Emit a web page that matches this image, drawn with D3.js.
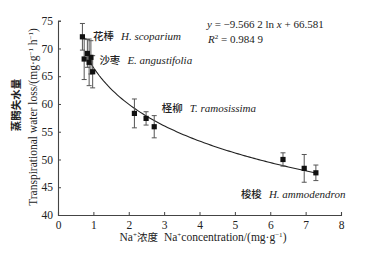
<!DOCTYPE html>
<html><head><meta charset="utf-8">
<script src="https://cdn.jsdelivr.net/npm/d3@7"></script>
<style>
html,body{margin:0;padding:0;background:#fff;}
svg text{font-family:"Liberation Serif","Times New Roman","Noto Sans CJK SC",serif;fill:#222;}
.cjk{font-family:"Noto Sans CJK SC",sans-serif;}
</style></head>
<body>
<svg id="c" width="373" height="259"></svg>
<script>
// Data
const naConc = [0.69, 0.74, 0.83, 0.88, 0.93, 0.98, 2.16, 2.49, 2.72, 6.36, 6.96, 7.29];
const waterLoss = [72.1, 68.1, 69.1, 67.5, 68.4, 65.8, 58.3, 57.4, 55.9, 50.0, 48.4, 47.6];
const errors = [2.4, 3.7, 2.5, 4.2, 3.0, 2.9, 2.6, 1.2, 2.0, 1.2, 2.5, 1.4];
const xTicks = [0, 1, 2, 3, 4, 5, 6, 7, 8];
const yTicks = [40, 45, 50, 55, 60, 65, 70, 75];
const fitA = -9.5662, fitB = 66.581;
const fitRange = [0.9, 7.35];
const speciesLabels = [
  {cn: "花棒", la: "H. scoparium", x: 0.99, y: 71.6},
  {cn: "沙枣", la: "E. angustifolia", x: 1.17, y: 67.2},
  {cn: "柽柳", la: "T. ramosissima", x: 2.93, y: 58.6},
  {cn: "梭梭", la: "H. ammodendron", x: 5.17, y: 43.0}
];

const svg = d3.select("#c");
const x = d3.scaleLinear().domain([0, 8]).range([58, 341]);
const y = d3.scaleLinear().domain([40, 75]).range([215, 20.7]);
const axisColor = "#444";

// Axes
const xAxis = svg.append("g").attr("transform", `translate(0,${y(40)})`)
  .call(d3.axisBottom(x).tickValues(xTicks).tickSize(-3).tickPadding(6).tickFormat(d3.format("d")));
const yAxis = svg.append("g").attr("transform", `translate(${x(0)},0)`)
  .call(d3.axisLeft(y).tickValues(yTicks).tickSize(-3).tickPadding(5).tickFormat(d3.format("d")));
[xAxis, yAxis].forEach(g => {
  g.select(".domain").attr("stroke", axisColor).attr("stroke-width", 1.1);
  g.selectAll(".tick line").attr("stroke", axisColor);
  g.selectAll(".tick text").attr("font-size", 11.5).attr("font-family", "Liberation Serif").attr("fill", "#222");
});
xAxis.selectAll(".tick").filter(d => d === 0).select("line").remove();
yAxis.selectAll(".tick").filter(d => d === 40).select("line").remove();

// Fit curve
const curveData = d3.range(0, 101).map(i => {
  const xv = fitRange[0] + (fitRange[1] - fitRange[0]) * i / 100;
  return [xv, fitA * Math.log(xv) + fitB];
});
svg.append("path").datum(curveData)
  .attr("fill", "none").attr("stroke", "#222").attr("stroke-width", 1.1)
  .attr("d", d3.line().x(d => x(d[0])).y(d => y(d[1])));

// Error bars
const pts = naConc.map((v, i) => ({x: v, y: waterLoss[i], e: errors[i]}));
const eb = svg.append("g").attr("stroke", "#555").attr("stroke-width", 1);
pts.forEach(p => {
  eb.append("line").attr("x1", x(p.x)).attr("x2", x(p.x)).attr("y1", y(p.y - p.e)).attr("y2", y(p.y + p.e));
  [p.y - p.e, p.y + p.e].forEach(v => {
    eb.append("line").attr("x1", x(p.x) - 2.5).attr("x2", x(p.x) + 2.5).attr("y1", y(v)).attr("y2", y(v));
  });
});
// Markers
svg.append("g").selectAll("rect").data(pts).join("rect")
  .attr("x", d => x(d.x) - 2.6).attr("y", d => y(d.y) - 2.6)
  .attr("width", 5.2).attr("height", 5.2).attr("fill", "#111");

// Species labels
speciesLabels.forEach(s => {
  const t = svg.append("text").attr("x", x(s.x)).attr("y", y(s.y)).attr("font-size", 11);
  t.append("tspan").attr("class", "cjk").attr("font-weight", 500).attr("font-size", 10.5).text(s.cn);
  t.append("tspan").attr("dx", 7).attr("font-style", "italic").text(s.la);
});

// Equation
const eq = svg.append("text").attr("x", 207).attr("y", 28).attr("font-size", 11);
eq.append("tspan").attr("font-style", "italic").text("y");
eq.append("tspan").text(" = \u22129.566 2 ln ");
eq.append("tspan").attr("font-style", "italic").text("x");
eq.append("tspan").text(" + 66.581");
const r2 = svg.append("text").attr("x", 208).attr("y", 43).attr("font-size", 11);
r2.append("tspan").attr("font-style", "italic").text("R");
r2.append("tspan").attr("font-size", 7).attr("dy", -4).text("2");
r2.append("tspan").attr("dy", 4).text(" = 0.984 9");

// X axis title
const xt = svg.append("text").attr("x", 203).attr("y", 241).attr("text-anchor", "middle").attr("font-size", 11.5);
xt.append("tspan").text("Na");
xt.append("tspan").attr("font-size", 7).attr("dy", -4).text("+");
xt.append("tspan").attr("dy", 4).attr("class", "cjk").attr("font-size", 10.5).text("浓度");
xt.append("tspan").attr("dx", 6).text("Na");
xt.append("tspan").attr("font-size", 7).attr("dy", -4).text("+");
xt.append("tspan").attr("dy", 4).text("concentration/(mg\u00b7g");
xt.append("tspan").attr("font-size", 7).attr("dy", -4).text("\u22121");
xt.append("tspan").attr("dy", 4).text(")");

// Y axis titles
svg.append("text").attr("class", "cjk").attr("transform", "translate(20,105) rotate(-90)")
  .attr("text-anchor", "middle").attr("font-size", 10.5).attr("font-weight", "bold").text("蒸腾失水量");
const yt = svg.append("text").attr("transform", "translate(37,117) rotate(-90)")
  .attr("text-anchor", "middle").attr("font-size", 11.5);
yt.append("tspan").text("Transpirational water loss/(mg\u00b7g");
yt.append("tspan").attr("font-size", 7).attr("dy", -4).text("\u22121");
yt.append("tspan").attr("dy", 4).text(" h");
yt.append("tspan").attr("font-size", 7).attr("dy", -4).text("\u22121");
yt.append("tspan").attr("dy", 4).text(")");
</script>
</body></html>
